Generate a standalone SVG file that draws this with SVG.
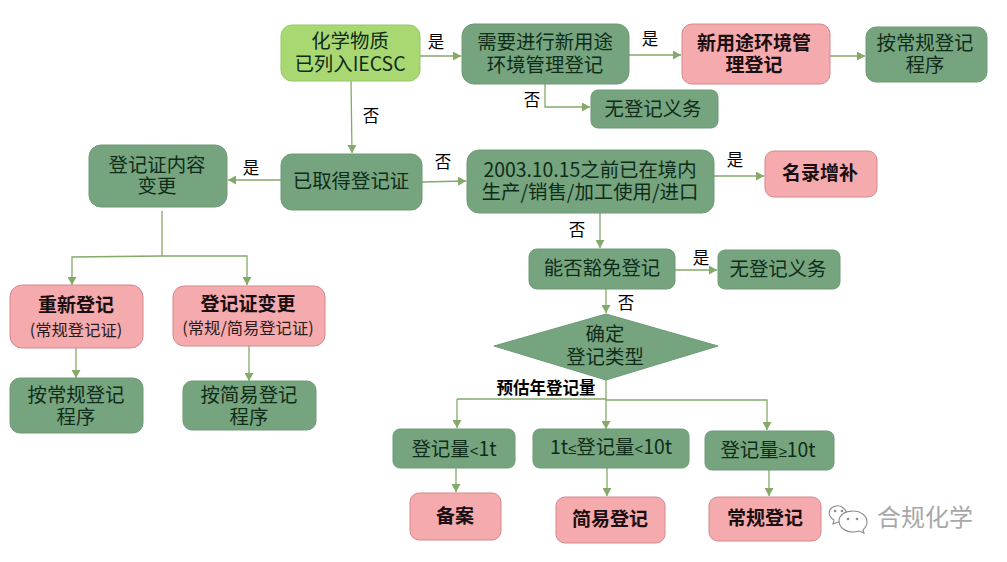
<svg xmlns="http://www.w3.org/2000/svg" width="1007" height="562" viewBox="0 0 1007 562">
<style>
text{font-family:"Noto Sans CJK SC","Liberation Sans",sans-serif;text-anchor:middle}
.g rect,.g polygon{fill:#76a47f;stroke:#6c9a76;stroke-width:1}
.l rect{fill:#a9d873;stroke:#96c46a;stroke-width:1}
.p rect{fill:#f5aaad;stroke:#d3898e;stroke-width:1}
.g text,.l text{font-size:19.4px;fill:#0f2c19}
.p text{font-size:19px;font-weight:700;fill:#1a0e10}
.p .n{font-weight:400;font-size:16.3px;fill:#2a1a1c}
.lb{font-size:16.5px;fill:#000}
.lb2{font-size:16.5px;font-weight:700;fill:#000}
.s{font-family:"Liberation Sans",sans-serif;font-size:15px}
#connectors path{fill:none;stroke:#84a968;stroke-width:1.3;marker-end:url(#a)}
#connectors path.n{marker-end:none}
</style>
<defs><marker id="a" markerUnits="userSpaceOnUse" markerWidth="9" markerHeight="9" refX="8" refY="4.5" orient="auto"><path d="M0 0L8 4.5L0 9Z" fill="#84a968"/></marker></defs>
<rect width="1007" height="562" fill="#fff"/>
<g id="connectors">
<path d="M420 56H461"/><path d="M629 55H681"/><path d="M830 56H865"/><path d="M545 84V107H590"/>
<path d="M351 81L352 153"/><path d="M422 182L466 181"/><path d="M281 180L228 180"/>
<path d="M714 176H764"/><path d="M600 213V248"/><path d="M675 270H717"/><path d="M606 289V313"/>
<path class="n" d="M162 211V256"/><path d="M162 256L72 257V285"/><path d="M162 256H247V285"/>
<path d="M76 348V378"/><path d="M249 346V381"/>
<path d="M606 380V429"/><path class="n" d="M457 399H606"/><path d="M457 399V428"/><path d="M606 400H767V430"/>
<path d="M456 468V492"/><path d="M607 468V496"/><path d="M769 470V496"/>
</g>
<g id="n1" class="l"><rect x="281" y="25" width="139" height="56" rx="11"/><text><tspan x="350" y="48">化学物质</tspan><tspan x="350" y="71">已列入IECSC</tspan></text></g>
<g id="n2" class="g"><rect x="462" y="24" width="167" height="60" rx="12"/><text><tspan x="545" y="49">需要进行新用途</tspan><tspan x="545" y="72">环境管理登记</tspan></text></g>
<g id="n3" class="p"><rect x="682" y="24" width="148" height="60" rx="10"/><text><tspan x="754" y="50">新用途环境管</tspan><tspan x="754" y="72">理登记</tspan></text></g>
<g id="n4" class="g"><rect x="866" y="27" width="121" height="55" rx="10"/><text><tspan x="925" y="50">按常规登记</tspan><tspan x="925" y="72">程序</tspan></text></g>
<g id="n5" class="g"><rect x="591" y="90" width="127" height="38" rx="7"/><text x="653" y="116">无登记义务</text></g>
<g id="n6" class="g"><rect x="281" y="154" width="141" height="56" rx="11"/><text x="351" y="188">已取得登记证</text></g>
<g id="n7" class="g"><rect x="467" y="150" width="247" height="63" rx="12"/><text><tspan x="590" y="177">2003.10.15之前已在境内</tspan><tspan x="590" y="199">生产/销售/加工使用/进口</tspan></text></g>
<g id="n8" class="p"><rect x="765" y="151" width="112" height="46" rx="9"/><text x="820" y="180">名录增补</text></g>
<g id="n9" class="g"><rect x="89" y="145" width="138" height="62" rx="12"/><text><tspan x="157" y="172">登记证内容</tspan><tspan x="157" y="193">变更</tspan></text></g>
<g id="n10" class="p"><rect x="10" y="285" width="133" height="63" rx="12"/><text><tspan x="76" y="312">重新登记</tspan><tspan class="n" x="76" y="336">(常规登记证)</tspan></text></g>
<g id="n11" class="p"><rect x="173" y="286" width="152" height="60" rx="11"/><text><tspan x="248" y="311">登记证变更</tspan><tspan class="n" x="248" y="334">(常规/简易登记证)</tspan></text></g>
<g id="n12" class="g"><rect x="10" y="378" width="133" height="55" rx="10"/><text><tspan x="76" y="402">按常规登记</tspan><tspan x="76" y="424">程序</tspan></text></g>
<g id="n13" class="g"><rect x="183" y="381" width="133" height="49" rx="9"/><text><tspan x="249" y="402">按简易登记</tspan><tspan x="249" y="424">程序</tspan></text></g>
<g id="n14" class="g"><rect x="529" y="249" width="146" height="40" rx="8"/><text x="602" y="275">能否豁免登记</text></g>
<g id="n15" class="g"><rect x="718" y="250" width="122" height="39" rx="7"/><text x="778" y="276">无登记义务</text></g>
<g id="n16" class="g"><polygon points="494,346 606,314 718,346 606,380"/><text><tspan x="605" y="341">确定</tspan><tspan x="605" y="364">登记类型</tspan></text></g>
<g id="n17" class="g"><rect x="393" y="429" width="122" height="39" rx="7"/><text x="454" y="456">登记量<tspan class="s">&lt;</tspan>1t</text></g>
<g id="n18" class="g"><rect x="533" y="429" width="156" height="39" rx="7"/><text x="611" y="454">1t<tspan class="s">≤</tspan>登记量<tspan class="s">&lt;</tspan>10t</text></g>
<g id="n19" class="g"><rect x="705" y="431" width="129" height="39" rx="7"/><text x="768" y="457">登记量<tspan class="s">≥</tspan>10t</text></g>
<g id="n20" class="p"><rect x="410" y="493" width="91" height="47" rx="9"/><text x="455" y="523">备案</text></g>
<g id="n21" class="p"><rect x="556" y="497" width="109" height="46" rx="9"/><text x="610" y="526">简易登记</text></g>
<g id="n22" class="p"><rect x="709" y="497" width="112" height="44" rx="9"/><text x="765" y="525">常规登记</text></g>
<g id="labels">
<text class="lb" x="436" y="48">是</text><text class="lb" x="650" y="45">是</text><text class="lb" x="532" y="106">否</text><text class="lb" x="371" y="122">否</text>
<text class="lb" x="443" y="168">否</text><text class="lb" x="251" y="174">是</text><text class="lb" x="735" y="166">是</text><text class="lb" x="577" y="236">否</text>
<text class="lb" x="701" y="264">是</text><text class="lb" x="626" y="309">否</text><text class="lb2" x="546" y="394">预估年登记量</text>
</g>
<g id="watermark" fill="#fff" stroke="#8a8a8a" stroke-width="1.1">
<path d="M847 513c-2-5-7-8-11-7c-6 1-8 6-6 10c1 2 2 3 4 4l-1 4l5-2c1 0 3 1 4 0"/>
<path d="M853 511c8 0 14 5 14 11c0 3-2 6-4 8l1 3l-5-2c-2 1-4 1-6 1c-8 0-14-5-14-11s6-10 14-10z"/>
<circle cx="835" cy="511" r="0.8"/><circle cx="842" cy="511" r="0.8"/><circle cx="848" cy="519" r="0.8"/><circle cx="857" cy="519" r="0.8"/>
<text x="925" y="526" style="font-size:24px;fill:#a8a8a8;stroke:none">合规化学</text>
</g>
</svg>
